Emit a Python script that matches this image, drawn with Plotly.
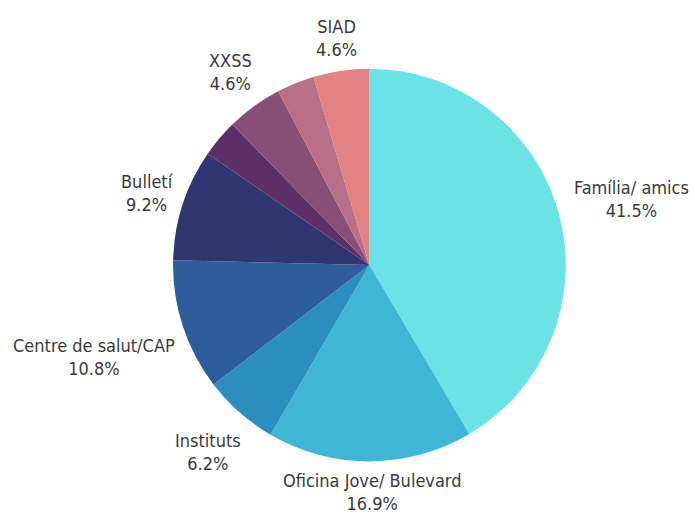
import plotly.graph_objects as go

# Channels through which people heard about the service (% of answers)
labels = ["Família/ amics", "Oficina Jove/ Bulevard", "Instituts",
          "Centre de salut/CAP", "Bulletí", "Altres 1", "XXSS", "Altres 2", "SIAD"]
values = [41.5, 16.9, 6.2, 10.8, 9.2, 3.1, 4.6, 3.1, 4.6]
show_label = [True, True, True, True, True, False, True, False, True]
colors = ["#6BE2E6", "#3FB6D6", "#2C8DBF", "#2E5D9B", "#2F3670",
          "#5C2F66", "#874F76", "#B86F88", "#E28282"]

# Label anchor points in pixels (x, y from top) for the slices that carry a label
label_pos = [(631, 199), (372, 492), (208, 452), (94, 357), (147, 193),
             None, (230, 72), None, (336, 38)]

W, H = 695, 520
total = sum(values)

fig = go.Figure(go.Pie(
    labels=labels,
    values=values,
    sort=False,
    direction="clockwise",
    rotation=0,
    marker=dict(colors=colors, line=dict(width=0)),
    textinfo="none",
    hoverinfo="label+percent",
    showlegend=False,
    domain=dict(x=[0.249, 0.814], y=[0.1115, 0.869]),
))

font = dict(family="DejaVu Sans Condensed, DejaVu Sans, sans-serif", size=18, color="#3A3A3A")
for lab, val, show, pos in zip(labels, values, show_label, label_pos):
    if not show:
        continue
    fig.add_annotation(
        x=pos[0] / W, y=1 - pos[1] / H, xref="paper", yref="paper",
        text=f"{lab}<br>{val / total * 100:.1f}%",
        showarrow=False, xanchor="center", yanchor="middle",
        align="center", font=font,
    )

fig.update_layout(
    width=W, height=H,
    margin=dict(l=0, r=0, t=0, b=0),
    paper_bgcolor="white",
    plot_bgcolor="white",
)

fig.write_html("out.html")
